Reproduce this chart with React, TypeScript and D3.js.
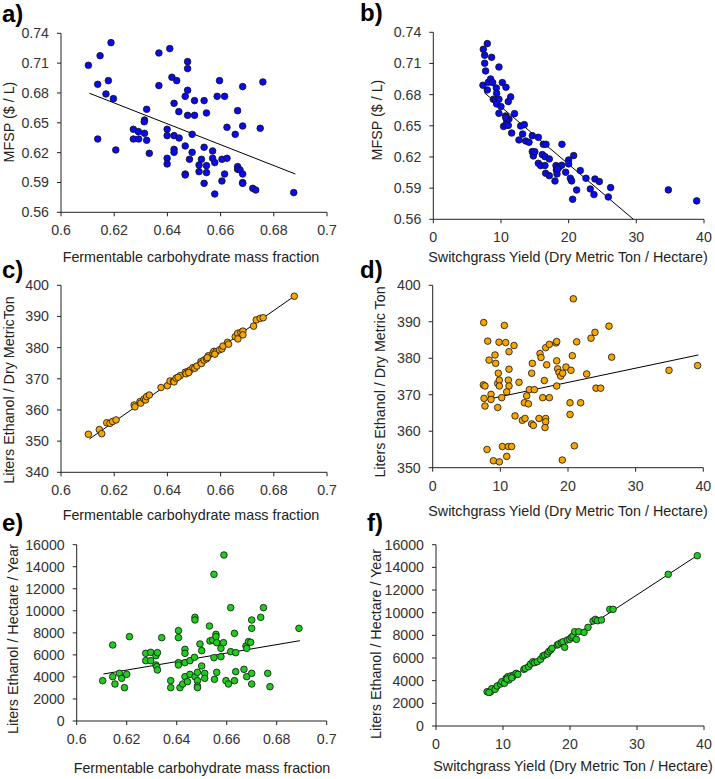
import React from "react";
import * as d3 from "d3";

// ---------- Data ----------
const fracTicks = [0.6, 0.62, 0.64, 0.66, 0.68, 0.7];
const yieldTicks = [0, 10, 20, 30, 40];
const mfspTicks = [0.56, 0.59, 0.62, 0.65, 0.68, 0.71, 0.74];
const ethTonTicksC = [340, 350, 360, 370, 380, 390, 400];
const ethTonTicksD = [350, 360, 370, 380, 390, 400];
const ethHaTicks = [0, 2000, 4000, 6000, 8000, 10000, 12000, 14000, 16000];

const xTitleFrac = "Fermentable carbohydrate mass fraction";
const xTitleYield = "Switchgrass Yield (Dry Metric Ton / Hectare)";

// panel a: fermentable fraction vs MFSP
const pointsA: [number, number][] = [
  [0.6103, 0.7078], [0.6147, 0.7175], [0.6188, 0.7306], [0.6138, 0.6887], [0.6178, 0.6924],
  [0.6169, 0.679], [0.6197, 0.6743], [0.6138, 0.6337], [0.6206, 0.6227], [0.6322, 0.6636],
  [0.6314, 0.6528], [0.6313, 0.651], [0.6272, 0.6435], [0.6291, 0.6411], [0.6314, 0.6394],
  [0.6272, 0.6337], [0.6292, 0.6337], [0.6322, 0.6324], [0.6332, 0.6193], [0.6368, 0.7202],
  [0.6368, 0.6874], [0.6409, 0.7246], [0.6417, 0.6958], [0.6435, 0.6924], [0.6425, 0.6696],
  [0.6443, 0.6612], [0.6399, 0.6435], [0.6399, 0.6371], [0.6425, 0.6371], [0.6444, 0.6347],
  [0.6399, 0.6143], [0.6399, 0.6086], [0.6425, 0.6233], [0.6425, 0.6203], [0.6476, 0.7115],
  [0.6476, 0.7045], [0.6476, 0.6827], [0.6467, 0.6766], [0.6476, 0.6575], [0.6502, 0.6575],
  [0.6502, 0.6723], [0.6538, 0.6723], [0.6547, 0.6599], [0.6493, 0.6384], [0.6467, 0.6267],
  [0.6493, 0.6203], [0.6483, 0.6133], [0.6467, 0.5985], [0.6467, 0.5975], [0.6538, 0.6254],
  [0.6528, 0.6133], [0.6519, 0.6076], [0.6519, 0.6009], [0.6547, 0.6069], [0.6547, 0.5999],
  [0.6538, 0.5891], [0.657, 0.6217], [0.657, 0.6143], [0.6578, 0.61], [0.6578, 0.5784],
  [0.6596, 0.6924], [0.6587, 0.6766], [0.6615, 0.6766], [0.6624, 0.6455], [0.6605, 0.6133],
  [0.6624, 0.6143], [0.6615, 0.5985], [0.6605, 0.5915], [0.6655, 0.6384], [0.6664, 0.6622],
  [0.6664, 0.6059], [0.6664, 0.6032], [0.6673, 0.6026], [0.6683, 0.5985], [0.6683, 0.5898],
  [0.6683, 0.5891], [0.6683, 0.6864], [0.6683, 0.6468], [0.6721, 0.5841], [0.6732, 0.5824],
  [0.6749, 0.6445], [0.6759, 0.6911], [0.6875, 0.5798],
];
const trendA = [[0.6107, 0.6797], [0.6881, 0.5985]];

// panel b: switchgrass yield vs MFSP
const pointsB: [number, number][] = [
  [7.39, 0.7236], [7.98, 0.7291], [7.59, 0.7179], [7.59, 0.7102], [7.73, 0.7028],
  [8.62, 0.7159], [7.34, 0.689], [7.98, 0.6845], [8.13, 0.6919], [8.47, 0.6951],
  [8.77, 0.6916], [9.31, 0.6864], [9.36, 0.6813], [9.7, 0.7066], [10.2, 0.6916],
  [10.74, 0.6871], [11.43, 0.6778], [11.08, 0.6733], [8.87, 0.6755], [9.21, 0.6749],
  [9.7, 0.6755], [9.36, 0.671], [10.0, 0.6685], [9.7, 0.662], [10.69, 0.6595],
  [11.18, 0.6566], [10.84, 0.6556], [12.0, 0.6617], [10.39, 0.6494], [10.69, 0.651],
  [11.08, 0.6504], [11.58, 0.643], [12.91, 0.6498], [13.45, 0.6511], [13.2, 0.6421],
  [12.66, 0.6364], [13.65, 0.6354], [14.14, 0.6341], [14.63, 0.6405], [15.52, 0.6389],
  [14.63, 0.6251], [14.78, 0.621], [15.52, 0.6139], [15.86, 0.6117], [16.11, 0.6223],
  [16.5, 0.6203], [16.26, 0.6322], [16.65, 0.6322], [16.5, 0.6117], [16.6, 0.6043],
  [17.14, 0.602], [17.14, 0.6181], [17.98, 0.5969], [18.13, 0.6117], [18.18, 0.6075],
  [18.28, 0.6037], [18.57, 0.6101], [18.97, 0.612], [19.01, 0.6322], [19.56, 0.6053],
  [20.0, 0.6171], [20.0, 0.6133], [20.25, 0.5995], [20.44, 0.5969], [20.74, 0.6213],
  [21.18, 0.5882], [20.59, 0.5793], [21.72, 0.6069], [22.56, 0.5995], [23.2, 0.5892],
  [23.89, 0.5988], [24.53, 0.5963], [23.74, 0.5838], [25.86, 0.5815], [26.2, 0.5905],
  [34.73, 0.5883], [38.92, 0.5777], [10.69, 0.6581], [15.0, 0.625], [18.4, 0.6085],
];
const trendB = [[7.54, 0.6819], [38.92, 0.5082]];

// panel c: fermentable fraction vs liters ethanol / dry metric ton
const pointsC: [number, number][] = [
  [0.6103, 352.2], [0.6144, 353.7], [0.6153, 352.4], [0.6172, 355.9], [0.6184, 355.7],
  [0.6194, 356.3], [0.6207, 356.8], [0.6275, 361.6], [0.6278, 361.0], [0.6297, 362.7],
  [0.6300, 362.2], [0.6312, 363.5], [0.6318, 363.2], [0.6322, 364.3], [0.6332, 364.8],
  [0.6376, 367.2], [0.64, 367.8], [0.641, 369.3], [0.6423, 369.3], [0.6425, 369.0],
  [0.6433, 370.2], [0.6448, 371.0], [0.6440, 370.5], [0.6467, 372.1], [0.6476, 372.3],
  [0.6470, 371.6], [0.6486, 372.8], [0.6480, 372.0], [0.6496, 373.6], [0.6503, 373.4],
  [0.6511, 374.1], [0.6526, 375.5], [0.6528, 374.9], [0.6538, 376.0], [0.6547, 376.4],
  [0.6554, 377.4], [0.6550, 376.8], [0.6571, 378.2], [0.6575, 378.8], [0.6583, 378.7],
  [0.6578, 377.9], [0.6596, 379.3], [0.6605, 379.6], [0.6609, 380.5], [0.6626, 381.7],
  [0.663, 381.1], [0.6655, 383.5], [0.6664, 384.6], [0.6665, 382.8], [0.6676, 384.9],
  [0.6684, 385.3], [0.6684, 384.1], [0.6724, 386.9], [0.6734, 388.9], [0.6749, 389.4],
  [0.676, 389.6], [0.6877, 396.5],
];
const trendC = [[0.6107, 350.7], [0.6877, 396.5]];

// panel d: switchgrass yield vs liters ethanol / dry metric ton
const pointsD: [number, number][] = [
  [7.54, 389.8], [7.49, 372.7], [7.73, 372.4], [7.59, 369.0], [7.73, 366.9],
  [8.13, 384.7], [8.33, 379.5], [8.03, 355.0], [8.62, 370.1], [8.62, 368.7],
  [8.97, 351.9], [9.21, 380.9], [9.31, 378.6], [9.61, 373.1], [9.7, 375.9],
  [9.85, 374.0], [9.85, 372.4], [9.61, 366.5], [9.85, 351.6], [9.8, 384.4],
  [10.3, 355.8], [10.2, 369.2], [10.59, 389.0], [10.79, 384.3], [10.94, 370.8],
  [10.94, 353.1], [11.18, 374.0], [11.28, 381.8], [11.28, 377.0], [11.28, 372.4],
  [11.18, 355.8], [11.67, 355.8], [12.02, 383.5], [12.17, 364.2], [12.76, 373.4],
  [13.25, 363.0], [13.65, 363.5], [13.55, 367.8], [13.89, 369.7], [14.14, 367.5],
  [14.29, 371.4], [14.63, 375.9], [14.73, 378.6], [14.63, 362.0], [14.88, 361.6],
  [15.02, 371.4], [15.71, 363.5], [15.86, 381.3], [16.01, 380.2], [16.26, 369.2],
  [16.5, 373.9], [16.7, 382.9], [16.7, 363.5], [16.7, 362.6], [16.6, 361.0],
  [16.85, 378.2], [17.24, 369.2], [17.24, 383.8], [18.23, 384.2], [18.33, 384.6],
  [18.33, 379.3], [18.47, 377.1], [18.33, 372.4], [18.67, 376.1], [18.92, 375.1],
  [19.21, 375.9], [19.16, 352.1], [19.7, 377.6], [20.3, 367.8], [20.3, 364.6],
  [20.44, 376.7], [20.64, 380.7], [20.79, 396.3], [20.94, 356.0], [21.28, 384.5],
  [21.87, 367.8], [22.76, 375.7], [23.4, 385.5], [23.99, 387.1], [24.14, 371.8],
  [24.83, 371.8], [26.06, 388.8], [26.45, 380.3], [34.93, 376.7], [39.16, 378.0],
];
const trendD = [[7.5, 368.5], [39.26, 380.9]];

// panel e: fermentable fraction vs liters ethanol / hectare / year
const pointsE: [number, number][] = [
  [0.6104, 3660], [0.6144, 6897], [0.6144, 4023], [0.6153, 3358], [0.6171, 4326],
  [0.618, 3872], [0.6191, 3025], [0.62, 4235], [0.6211, 7653], [0.6276, 6141],
  [0.6276, 5475], [0.6296, 6232], [0.6296, 5475], [0.6317, 5929], [0.6323, 6201],
  [0.6317, 5082], [0.632, 4931], [0.6323, 4628], [0.634, 7563], [0.6376, 3660],
  [0.6376, 3025], [0.6407, 8198], [0.6407, 7563], [0.6407, 5294], [0.6407, 5082],
  [0.6413, 3025], [0.6424, 3358], [0.6433, 6504], [0.6433, 6141], [0.6433, 5294],
  [0.6433, 4023], [0.6443, 3570], [0.6453, 5475], [0.6453, 4235], [0.6471, 5778],
  [0.6473, 9408], [0.6473, 9166], [0.6473, 4023], [0.6483, 4417], [0.6483, 3660],
  [0.6483, 3176], [0.6483, 3025], [0.6493, 6988], [0.65, 6383], [0.65, 4991],
  [0.6512, 4326], [0.6512, 3872], [0.6531, 8621], [0.6533, 7260], [0.6544, 7351],
  [0.6549, 13310], [0.6549, 5747], [0.6551, 3781], [0.6557, 7865], [0.6557, 7653],
  [0.656, 7109], [0.656, 4417], [0.6577, 6594], [0.6577, 5838], [0.6587, 7109],
  [0.6589, 15065], [0.6597, 3660], [0.6607, 3358], [0.6616, 10285], [0.6616, 6292],
  [0.6631, 7956], [0.6631, 3660], [0.6636, 4477], [0.6636, 6201], [0.6669, 4689],
  [0.6677, 6806], [0.668, 6594], [0.668, 4023], [0.6687, 7200], [0.6696, 7139],
  [0.67, 9166], [0.67, 8410], [0.67, 4326], [0.67, 3358], [0.6736, 9408],
  [0.6747, 10285], [0.6764, 4326], [0.6773, 3116], [0.6889, 8410],
];
const trendE = [[0.6107, 4265], [0.6893, 7290]];

// panel f: switchgrass yield vs liters ethanol / hectare / year
const pointsF: [number, number][] = [
  [7.63, 3029], [8.13, 3000], [8.33, 3294], [7.9, 2960], [8.83, 3235], [9.13, 3529],
  [9.63, 3706], [9.83, 3912], [10.22, 3765], [10.47, 4206], [10.72, 4353],
  [10.87, 4059], [11.12, 4412], [11.47, 4353], [11.62, 4500], [11.97, 4647],
  [12.22, 4559], [10.6, 4150], [11.3, 4250], [13.12, 5000], [13.32, 5088], [13.82, 5235],
  [14.11, 5470], [14.46, 5676], [14.71, 5588], [15.11, 5676], [15.61, 5882],
  [15.96, 6176], [16.21, 6264], [16.61, 6353], [16.81, 6559], [17.11, 6706],
  [17.31, 6853], [18.1, 7147], [18.3, 7235], [18.7, 7353], [18.95, 7441],
  [19.2, 6941], [19.6, 7588], [19.95, 7647], [20.2, 7823], [20.45, 7941],
  [20.7, 8323], [20.95, 7647], [21.3, 8323], [22.1, 8264], [22.69, 8705],
  [23.44, 9264], [23.79, 9411], [24.09, 9294], [24.69, 9352], [25.94, 10293],
  [26.43, 10293], [34.66, 13382], [39.0, 15029],
];
const trendF = [[7.63, 2941], [39.25, 15146]];

// ---------- Layout / style ----------
const FONT = "'Liberation Sans', Arial, sans-serif";
const BLUE = "#0a0af0";
const ORANGE = "#f7a500";
const GREEN = "#1fcc1f";
const TITLE_SIZE = 14.3;
const TICK_SIZE = 14.2;

type PanelCfg = {
  label: string; lx: number; ly: number;
  x0: number; x1: number; y0: number; y1: number;
  xDomain: [number, number]; yDomain: [number, number];
  xTicks: number[]; yTicks: number[];
  points: [number, number][]; trend: number[][]; color: string;
  xTitle: string; xTitleY: number; xTitleX: number;
  yTitle: string; yTitleX: number; yTitleY: number;
};

const panels: PanelCfg[] = [
  { label: "a)", lx: 2, ly: 22, x0: 61, x1: 327, y0: 33.3, y1: 212.3, xDomain: [0.6, 0.7], yDomain: [0.56, 0.74],
    xTicks: fracTicks, yTicks: mfspTicks, points: pointsA, trend: trendA, color: BLUE,
    xTitle: xTitleFrac, xTitleY: 262, xTitleX: 191, yTitle: "MFSP ($ / L)", yTitleX: 9, yTitleY: 122 },
  { label: "b)", lx: 360, ly: 21, x0: 433.3, x1: 704, y0: 32.3, y1: 219.3, xDomain: [0, 40], yDomain: [0.56, 0.74],
    xTicks: yieldTicks, yTicks: mfspTicks, points: pointsB, trend: trendB, color: BLUE,
    xTitle: xTitleYield, xTitleY: 262, xTitleX: 568, yTitle: "MFSP ($ / L)", yTitleX: 377, yTitleY: 120 },
  { label: "c)", lx: 2, ly: 278, x0: 61, x1: 327, y0: 285.3, y1: 472.3, xDomain: [0.6, 0.7], yDomain: [340, 400],
    xTicks: fracTicks, yTicks: ethTonTicksC, points: pointsC, trend: trendC, color: ORANGE,
    xTitle: xTitleFrac, xTitleY: 520, xTitleX: 191, yTitle: "Liters Ethanol / Dry MetricTon", yTitleX: 9, yTitleY: 390 },
  { label: "d)", lx: 360, ly: 278, x0: 432.7, x1: 703.3, y0: 285.3, y1: 467.7, xDomain: [0, 40], yDomain: [350, 400],
    xTicks: yieldTicks, yTicks: ethTonTicksD, points: pointsD, trend: trendD, color: ORANGE,
    xTitle: xTitleYield, xTitleY: 516, xTitleX: 568, yTitle: "Liters Ethanol / Dry Metric Ton", yTitleX: 380, yTitleY: 382 },
  { label: "e)", lx: 2, ly: 531, x0: 76.7, x1: 326.7, y0: 544.7, y1: 721, xDomain: [0.6, 0.7], yDomain: [0, 16000],
    xTicks: fracTicks, yTicks: ethHaTicks, points: pointsE, trend: trendE, color: GREEN,
    xTitle: xTitleFrac, xTitleY: 773, xTitleX: 202, yTitle: "Liters Ethanol / Hectare / Year", yTitleX: 13, yTitleY: 639 },
  { label: "f)", lx: 367, ly: 531, x0: 436, x1: 704, y0: 544.7, y1: 726, xDomain: [0, 40], yDomain: [0, 16000],
    xTicks: yieldTicks, yTicks: ethHaTicks, points: pointsF, trend: trendF, color: GREEN,
    xTitle: xTitleYield, xTitleY: 771, xTitleX: 573, yTitle: "Liters Ethanol / Hectare / Year", yTitleX: 376, yTitleY: 644 },
];

function fmt(v: number) {
  return String(Math.round(v * 1000) / 1000);
}

function Panel({ p, idx }: { p: PanelCfg; idx: number }) {
  const x = d3.scaleLinear().domain(p.xDomain).range([p.x0, p.x1]);
  const y = d3.scaleLinear().domain(p.yDomain).range([p.y1, p.y0]);
  const line = d3.line<number[]>().x((d) => x(d[0])).y((d) => y(d[1]));
  const clipId = `clip${idx}`;
  return (
    <g>
      <defs>
        <clipPath id={clipId}>
          <rect x={p.x0} y={p.y0 - 10} width={p.x1 - p.x0 + 10} height={p.y1 - p.y0 + 10} />
        </clipPath>
      </defs>
      <line x1={p.x0} x2={p.x0} y1={p.y0} y2={p.y1} stroke="#222" strokeWidth={1} />
      <line x1={p.x0} x2={p.x1} y1={p.y1} y2={p.y1} stroke="#222" strokeWidth={1} />
      {p.yTicks.map((t) => (
        <g key={"y" + t}>
          <line x1={p.x0 - 4} x2={p.x0} y1={y(t)} y2={y(t)} stroke="#222" />
          <text x={p.x0 - 12} y={y(t)} dy="0.35em" textAnchor="end" fontSize={TICK_SIZE} fill="#333" fontFamily={FONT}>
            {fmt(t)}
          </text>
        </g>
      ))}
      {p.xTicks.map((t) => (
        <g key={"x" + t}>
          <line x1={x(t)} x2={x(t)} y1={p.y1} y2={p.y1 + 4} stroke="#222" />
          <text x={x(t)} y={p.y1 + 23} textAnchor="middle" fontSize={TICK_SIZE} fill="#333" fontFamily={FONT}>
            {fmt(t)}
          </text>
        </g>
      ))}
      <path d={line(p.trend) || ""} fill="none" stroke="#000" strokeWidth={1} clipPath={`url(#${clipId})`} />
      {p.points.map((d, i) => (
        <circle key={i} cx={x(d[0])} cy={y(d[1])} r={3.3} fill={p.color} stroke="#111" strokeWidth={0.8} />
      ))}
      <text x={p.xTitleX} y={p.xTitleY} textAnchor="middle" fontSize={TITLE_SIZE} fill="#222" fontFamily={FONT}>
        {p.xTitle}
      </text>
      <text
        transform={`translate(${p.yTitleX},${p.yTitleY}) rotate(-90)`}
        textAnchor="middle"
        dy="0.35em"
        fontSize={TITLE_SIZE}
        fill="#222"
        fontFamily={FONT}
      >
        {p.yTitle}
      </text>
      <text x={p.lx} y={p.ly} fontSize={24} fontWeight="bold" fill="#000" fontFamily={FONT}>
        {p.label}
      </text>
    </g>
  );
}

export default function App() {
  return (
    <svg width={715} height={779} style={{ position: "absolute", left: 0, top: 0, background: "#fff" }}>
      <rect width={715} height={779} fill="#fff" />
      {panels.map((p, i) => (
        <Panel key={i} p={p} idx={i} />
      ))}
    </svg>
  );
}
